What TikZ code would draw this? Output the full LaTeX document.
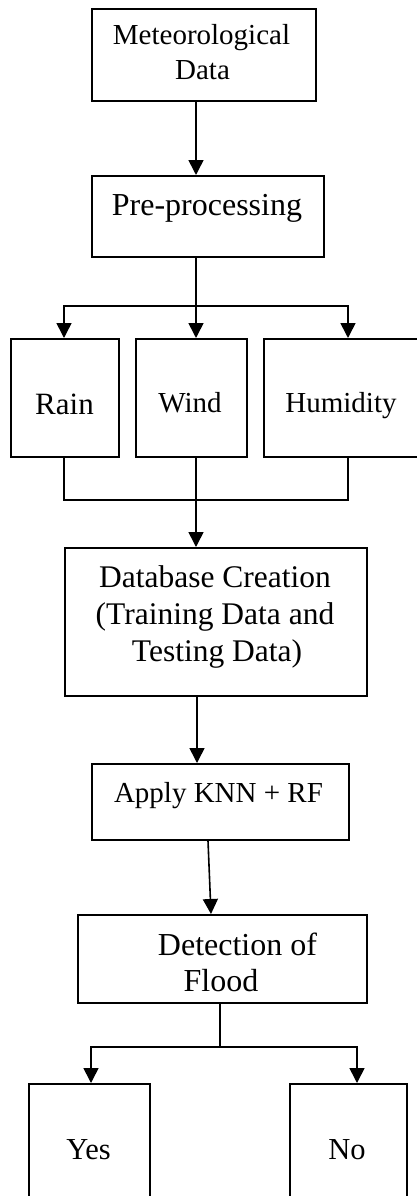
\documentclass[tikz,border=0pt]{standalone}
\usepackage{fontspec}
\setmainfont{Liberation Serif}
\usetikzlibrary{arrows.meta,calc}
\begin{document}
\begin{tikzpicture}[x=1pt,y=-1pt,
  box/.style={draw,line width=1.8pt,inner sep=0pt,anchor=north west},
  lbl/.style={font=\fontsize{#1}{#1}\selectfont,inner sep=0pt,anchor=base},
  lbl/.default=30,
  ln/.style={line width=1.6pt},
  arr/.style={line width=1.6pt,-{Triangle[width=15pt,length=15pt]}}]
\useasboundingbox (0,0) rectangle (417,1196);
\clip (0,0) rectangle (417,1196);
\fill[white] (0,0) rectangle (417,1196);
% boxes
\node[box,minimum width=224pt,minimum height=92pt] (meteo) at (91,8) {};
\node[box,minimum width=232pt,minimum height=81pt] (pre) at (91,175) {};
\node[box,minimum width=108pt,minimum height=118pt] (rain) at (10,338) {};
\node[box,minimum width=111pt,minimum height=118pt] (wind) at (135,338) {};
\node[box,minimum width=160pt,minimum height=118pt] (hum) at (263,338) {};
\node[box,minimum width=302pt,minimum height=148pt] (db) at (64,547) {};
\node[box,minimum width=257pt,minimum height=76pt] (knn) at (91,763) {};
\node[box,minimum width=289pt,minimum height=88pt] (det) at (77,914) {};
\node[box,minimum width=121pt,minimum height=130pt] (yes) at (28,1083) {};
\node[box,minimum width=117pt,minimum height=130pt] (no) at (289,1083) {};
% labels
\node[lbl=29] (tmeteo1) at (201.5,45) {Meteorological};
\node[lbl=29] (tmeteo2) at (202.5,80) {Data};
\node[lbl=32] (tpre) at (207,215) {Pre-processing};
\node[lbl=31] (train) at (64.5,414) {Rain};
\node[lbl=29] (twind) at (190,412) {Wind};
\node[lbl=29] (thum) at (341,412) {Humidity};
\node[lbl=31.5] (tdb1) at (215,587) {Database Creation};
\node[lbl=31.5] (tdb2) at (215,624) {(Training Data and};
\node[lbl=31.5] (tdb3) at (217,661) {Testing Data)};
\node[lbl=29] (tknn) at (218.5,802) {Apply KNN + RF};
\node[lbl=32] (tdet1) at (237.5,955) {Detection of};
\node[lbl=32] (tdet2) at (221,991) {Flood};
\node[lbl=30.5] (tyes) at (88.5,1159) {Yes};
\node[lbl=30.5] (tno) at (347,1159) {No};
% helper coordinates
\coordinate (xa) at (196,0);
\coordinate (xr) at (64,0);
\coordinate (xh) at (348,0);
\coordinate (xd) at (197,0);
\coordinate (xk1) at (208,0);
\coordinate (xk2) at (211,0);
\coordinate (xf) at (220,0);
\coordinate (xy) at (91,0);
\coordinate (xn) at (357,0);
\coordinate (bra) at (196,306);
\coordinate (jn) at (196,500);
\coordinate (sp) at (220,1047);
% connectors
\draw[arr] (meteo.south -| xa) -- (pre.north -| xa);
\draw[ln] (pre.south -| xa) -- (bra);
\draw[arr] (bra) -| (rain.north -| xr);
\draw[arr] (bra) -- (wind.north -| xa);
\draw[arr] (bra) -| (hum.north -| xh);
\draw[ln] (rain.south -| xr) |- (jn) -| (hum.south -| xh);
\draw[arr] (wind.south -| xa) -- (db.north -| xa);
\draw[arr] (db.south -| xd) -- (knn.north -| xd);
\draw[arr] (knn.south -| xk1) -- (det.north -| xk2);
\draw[ln] (det.south -| xf) -- (sp);
\draw[arr] (sp) -| (yes.north -| xy);
\draw[arr] (sp) -| (no.north -| xn);
\end{tikzpicture}
\end{document}
